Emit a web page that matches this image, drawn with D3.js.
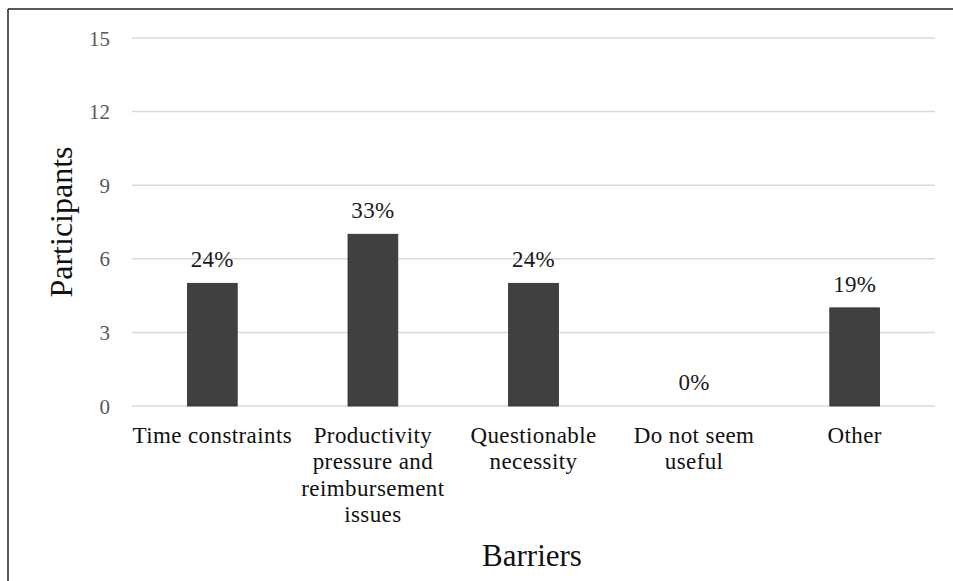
<!DOCTYPE html>
<html>
<head>
<meta charset="utf-8">
<script src="https://cdn.jsdelivr.net/npm/d3@7"></script>
<style>
  html, body { margin: 0; padding: 0; background: #fff; }
  svg { display: block; }
</style>
</head>
<body>
<svg id="chart" width="953" height="581"></svg>
<script>
const categories = ["Time constraints", "Productivity pressure and reimbursement issues", "Questionable necessity", "Do not seem useful", "Other"];
const participants = [5, 7, 5, 0, 4];
const percentLabels = ["24%", "33%", "24%", "0%", "19%"];
const yTicks = [0, 3, 6, 9, 12, 15];

const SERIF = "'Liberation Serif', 'Times New Roman', Times, serif";
const svg = d3.select("#chart").style("font-family", SERIF);
const W = 953, H = 581;
const plot = { left: 132, right: 935, top: 38, bottom: 406 };

// frame lines (top and left)
svg.append("line").attr("x1", 8).attr("x2", W).attr("y1", 9).attr("y2", 9)
  .attr("stroke", "#222").attr("stroke-width", 1.5);
svg.append("line").attr("x1", 8).attr("x2", 8).attr("y1", 9).attr("y2", H)
  .attr("stroke", "#222").attr("stroke-width", 1.5);

const x = d3.scaleBand().domain(categories).range([plot.left, plot.right])
  .paddingInner(0.69).paddingOuter(0.345);
const y = d3.scaleLinear().domain([0, 15]).range([plot.bottom, plot.top]);

// gridlines
svg.append("g").selectAll("line").data(yTicks).join("line")
  .attr("x1", plot.left).attr("x2", plot.right)
  .attr("y1", d => y(d)).attr("y2", d => y(d))
  .attr("stroke", "#d9d9d9").attr("stroke-width", 1.5);

// y axis labels
const yAxis = d3.axisLeft(y).tickValues(yTicks).tickSize(0).tickPadding(0);
const ya = svg.append("g").attr("transform", `translate(110,0)`).call(yAxis);
ya.select(".domain").remove();
ya.attr("font-family", null).attr("font-size", null);
ya.selectAll("text").style("font-family", SERIF)
  .style("font-size", "21px").attr("fill", "#595959").attr("dy", "0.34em");

// bars
svg.append("g").selectAll("rect").data(participants).join("rect")
  .attr("x", (d, i) => x(categories[i]))
  .attr("width", x.bandwidth())
  .attr("y", d => y(d))
  .attr("height", d => y(0) - y(d))
  .attr("fill", "#404040")
  .attr("stroke", "#2e2e2e").attr("stroke-width", 0.8);

// data labels
svg.append("g").selectAll("text").data(percentLabels).join("text")
  .attr("x", (d, i) => x(categories[i]) + x.bandwidth() / 2)
  .attr("y", (d, i) => y(participants[i]) - 16)
  .attr("text-anchor", "middle")
  .style("font-family", SERIF).style("font-size", "23px").style("letter-spacing", "0.3px")
  .attr("fill", "#1a1a1a")
  .text(d => d);

// category labels with wrapping
const catG = svg.append("g");
const maxW = x.step() + 2;
categories.forEach((c, i) => {
  const cx = x(c) + x.bandwidth() / 2;
  const t = catG.append("text").attr("x", cx).attr("y", 443)
    .attr("text-anchor", "middle")
    .style("font-family", SERIF).style("font-size", "23px").style("letter-spacing", "0.4px")
    .attr("fill", "#111");
  const words = c.split(" ");
  let line = [];
  let ts = t.append("tspan").attr("x", cx).attr("dy", 0);
  words.forEach(w => {
    line.push(w);
    ts.text(line.join(" "));
    if (ts.node().getComputedTextLength() > maxW && line.length > 1) {
      line.pop();
      ts.text(line.join(" "));
      line = [w];
      ts = t.append("tspan").attr("x", cx).attr("dy", 26.3).text(w);
    }
  });
});

// axis titles
svg.append("text").attr("transform", `translate(72,222) rotate(-90)`)
  .attr("text-anchor", "middle")
  .style("font-family", SERIF).style("font-size", "32px").attr("fill", "#111")
  .text("Participants");
svg.append("text").attr("x", 532).attr("y", 566)
  .attr("text-anchor", "middle")
  .style("font-family", SERIF).style("font-size", "31px").attr("fill", "#111")
  .text("Barriers");
</script>
</body>
</html>
